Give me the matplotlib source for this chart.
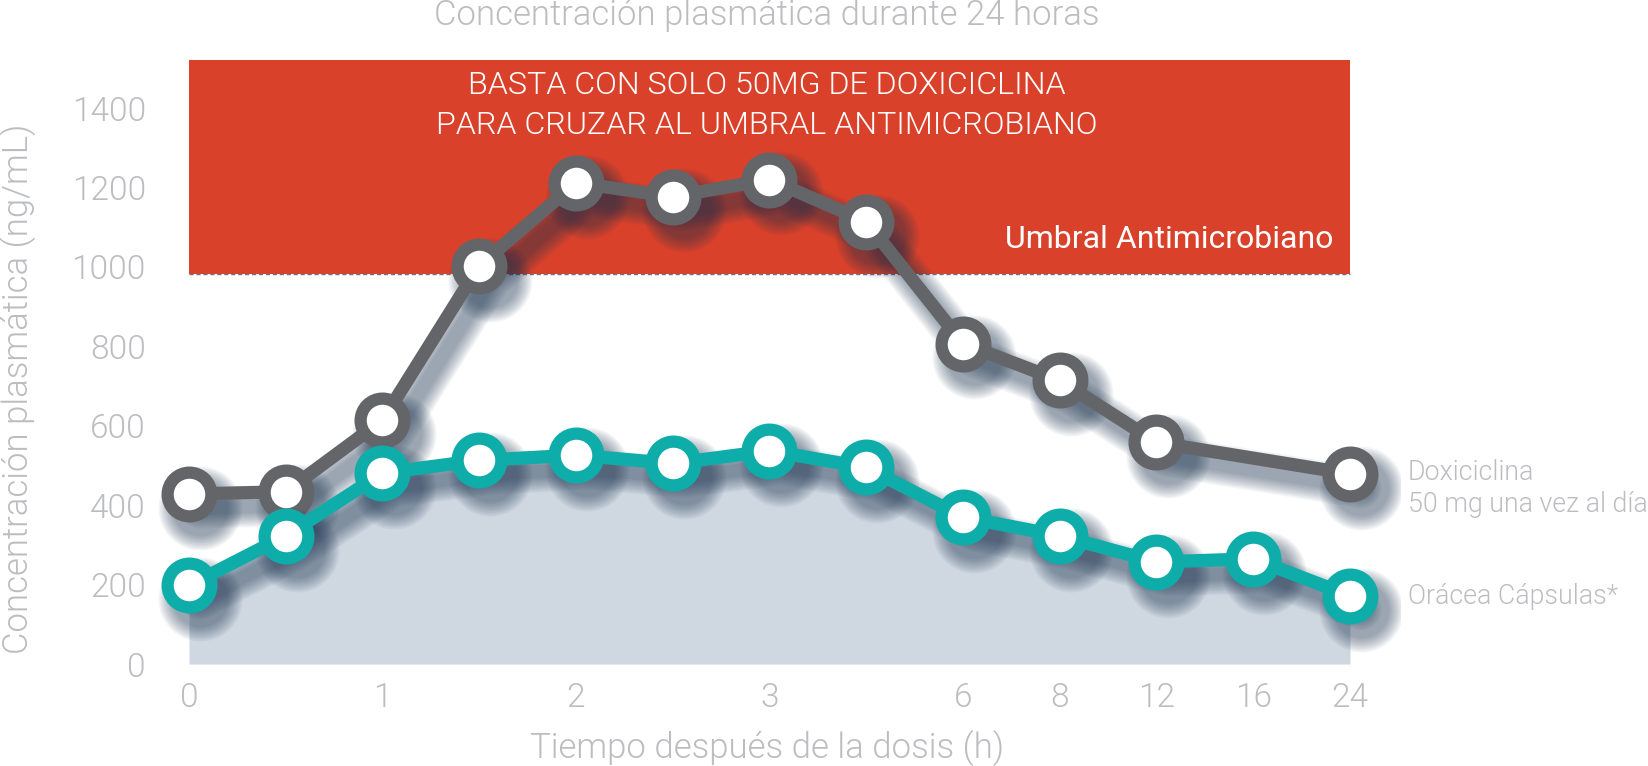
import matplotlib
matplotlib.use("Agg")
import matplotlib.pyplot as plt
import matplotlib.transforms as mtransforms
import numpy as np

# ---- data ----
times = ["0", "0.5", "1", "1.5", "2", "2.5", "3", "4", "6", "8", "12", "16", "24"]
oracea = [198, 323, 481, 513, 526, 505, 537, 495, 370, 323, 257, 265, 172]
# gray series has no point at 16 h
dox_times = ["0", "0.5", "1", "1.5", "2", "2.5", "3", "4", "6", "8", "12", "24"]
doxiciclina = [428, 434, 614, 1003, 1212, 1177, 1220, 1114, 807, 714, 558, 479]
tick_times = ["0", "1", "2", "3", "6", "8", "12", "16", "24"]
y_ticks = [0, 200, 400, 600, 800, 1000, 1200, 1400]
threshold_low = 981
threshold_high = 1521

FONT = ["Roboto", "DejaVu Sans"]
plt.rcParams["font.family"] = FONT
plt.rcParams["font.weight"] = 300

RED = "#d9412b"
GRAY = "#646569"
TEAL = "#0fadaa"
TXT = "#bcbdc0"
AREA = "#cfd8e1"
SHADOW = "#1c3350"

fig = plt.figure(figsize=(16.48, 7.66), dpi=100)
ax = fig.add_axes([150 / 1648, 1 - 672 / 766, 1250 / 1648, (672 - 44.5) / 766])

idx = {t: i for i, t in enumerate(times)}
xo = np.array([idx[t] for t in times], dtype=float)
xd = np.array([idx[t] for t in dox_times], dtype=float)

ax.set_xlim(-0.403, 12.517)
ax.set_ylim(-20, 1560)

# threshold band
ax.fill_between([0, 12], threshold_low, threshold_high, color=RED, lw=0, zorder=1)
ax.plot([0, 12], [threshold_low, threshold_low], color="#6f6f80", lw=1.0,
        ls=(0, (3, 2)), zorder=1.5)

# area under Orácea
ax.fill_between(xo, oracea, 0, color=AREA, lw=0, zorder=1.2)

LW = 9.5
MS = 31.5
MEW = 8.8


def shadow(x, y, z):
    n = 9
    for k in range(n):
        tr = mtransforms.offset_copy(ax.transData, fig=fig, x=8, y=-10, units="points")
        ax.plot(x, y, color=SHADOW, lw=LW + 2.5 * k, alpha=0.06,
                solid_capstyle="round", solid_joinstyle="round",
                transform=tr, zorder=z)
        ax.plot(x, y, ls="none", marker="o", ms=MS + MEW + 2.5 * k, mew=0,
                color=SHADOW, alpha=0.06, transform=tr, zorder=z)


shadow(xd, doxiciclina, 2)
ax.plot(xd, doxiciclina, color=GRAY, lw=LW, marker="o", ms=MS, mew=MEW,
        mec=GRAY, mfc="white", zorder=3)
shadow(xo, oracea, 4)
ax.plot(xo, oracea, color=TEAL, lw=LW, marker="o", ms=MS, mew=MEW,
        mec=TEAL, mfc="white", zorder=5)

# axes styling
for s in ax.spines.values():
    s.set_visible(False)
ax.set_yticks(y_ticks)
ax.set_yticklabels([str(v) for v in y_ticks])
ax.set_xticks([idx[t] for t in tick_times])
ax.set_xticklabels(tick_times)
ax.tick_params(length=0, labelsize=24, labelcolor=TXT)
ax.tick_params(axis="y", pad=3)
ax.tick_params(axis="x", pad=7)

fig.text(0.0, 1 - 389 / 766, "Concentración plasmática (ng/mL)", rotation=90,
         ha="left", va="center", fontsize=25, color=TXT)
fig.text(767 / 1648, 1 - 748 / 766, "Tiempo después de la dosis (h)",
         ha="center", va="center", fontsize=25, color=TXT)
fig.text(767 / 1648, 1 - 15 / 766, "Concentración plasmática durante 24 horas",
         ha="center", va="center", fontsize=25, color=TXT)

fig.text(767 / 1648, 1 - 86 / 766, "BASTA CON SOLO 50MG DE DOXICICLINA",
         ha="center", va="center", fontsize=23.2, color="white")
fig.text(767 / 1648, 1 - 126 / 766, "PARA CRUZAR AL UMBRAL ANTIMICROBIANO",
         ha="center", va="center", fontsize=23.2, color="white")
fig.text(1333 / 1648, 1 - 240 / 766, "Umbral Antimicrobiano",
         ha="right", va="center", fontsize=23, color="white", fontweight="normal")

fig.text(1408 / 1648, 1 - 473 / 766, "Doxiciclina", ha="left", va="center",
         fontsize=19.3, color=TXT)
fig.text(1408 / 1648, 1 - 504 / 766, "50 mg una vez al día", ha="left", va="center",
         fontsize=19.3, color=TXT)
fig.text(1408 / 1648, 1 - 596 / 766, "Orácea Cápsulas*", ha="left", va="center",
         fontsize=19.3, color=TXT)

fig.savefig("out.png", dpi=100, facecolor="white")
